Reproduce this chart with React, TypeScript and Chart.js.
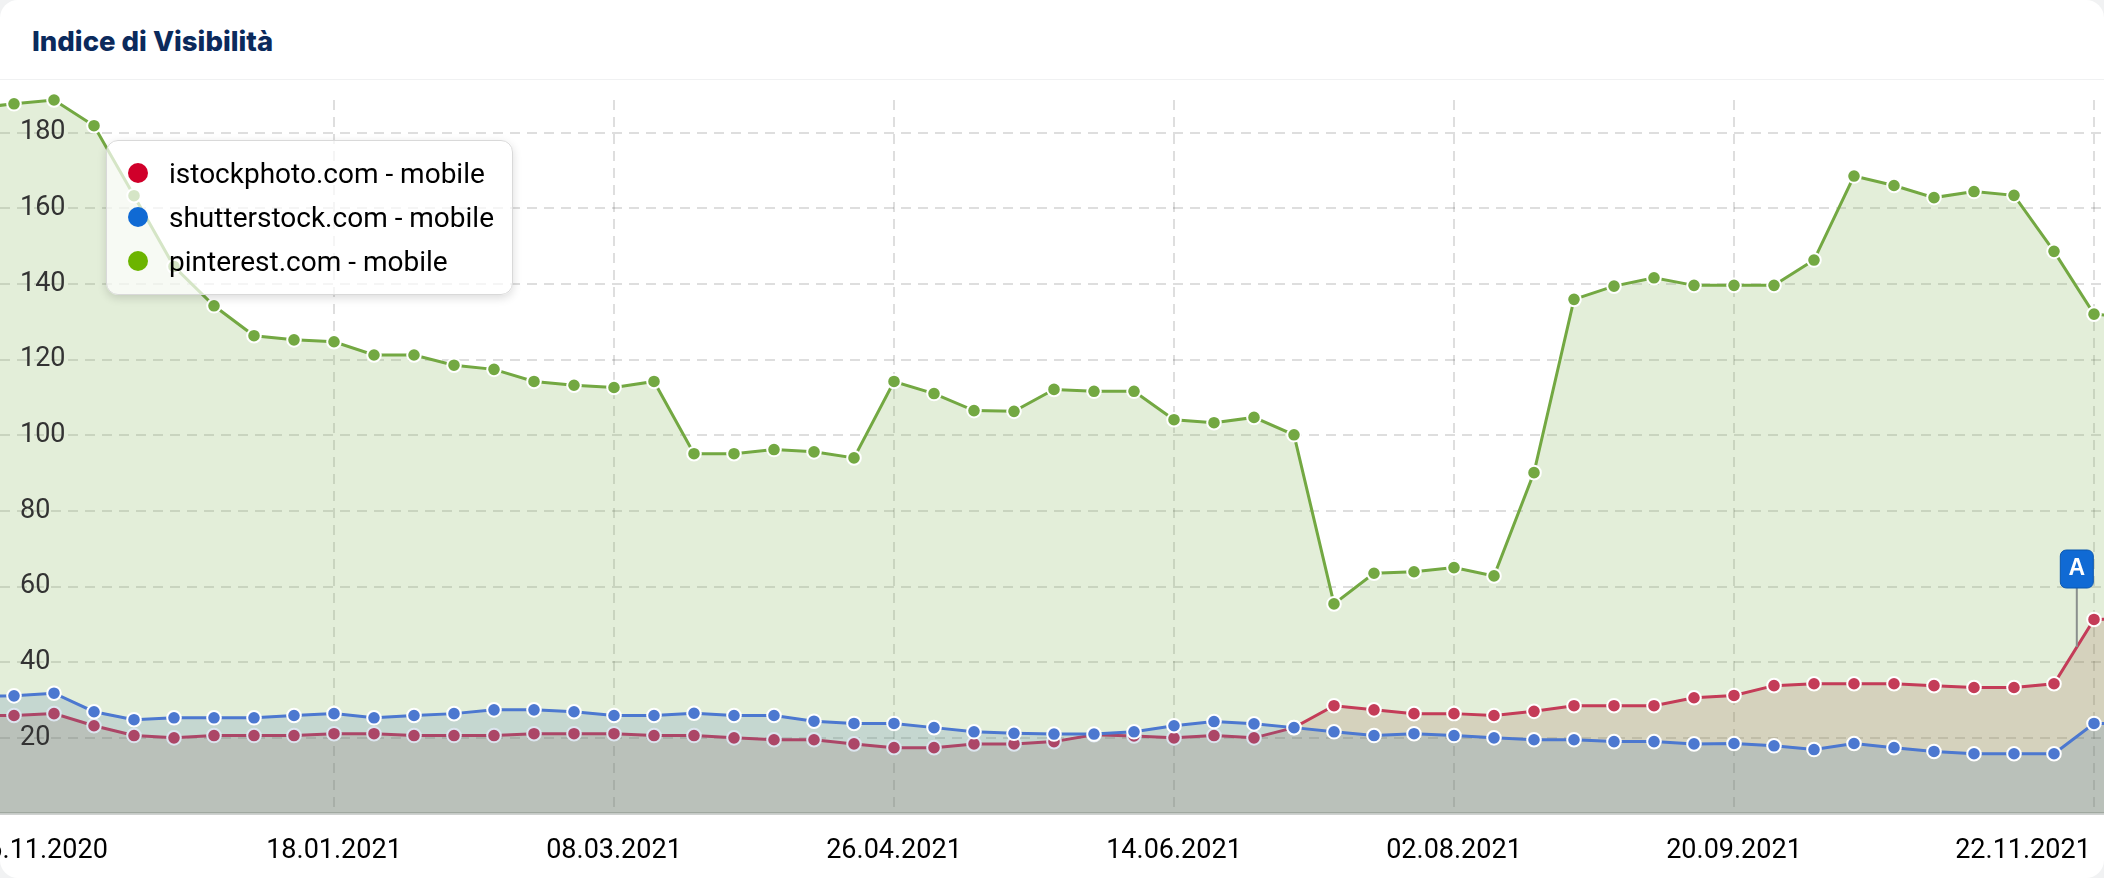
import React, { useEffect, useRef } from "react";
import { Chart, registerables } from "chart.js";

Chart.register(...registerables);

const TITLE = "Indice di Visibilità";
const weekIndex = [
  0, 1, 2, 3, 4, 5, 6, 7, 8, 9, 10, 11, 12, 13, 14, 15, 16, 17, 18, 19, 20, 21, 22, 23, 24, 25, 26,
  27, 28, 29, 30, 31, 32, 33, 34, 35, 36, 37, 38, 39, 40, 41, 42, 43, 44, 45, 46, 47, 48, 49, 50, 51, 52, 53, 54,
];
const istock = [
  25.9, 25.9, 26.4, 23.2, 20.6, 20, 20.6, 20.6, 20.6, 21.1, 21.1, 20.6, 20.6, 20.6, 21.1, 21.1, 21.1, 20.6,
  20.6, 20, 19.5, 19.5, 18.4, 17.4, 17.4, 18.4, 18.4, 19, 20.8, 20.5, 20, 20.6, 20, 22.7, 28.5, 27.4, 26.4,
  26.4, 25.9, 27, 28.5, 28.5, 28.5, 30.6, 31.2, 33.8, 34.3, 34.3, 34.3, 33.8, 33.3, 33.3, 34.3, 51.3, 51.5,
];
const shutter = [
  31, 31.1, 31.8, 26.9, 24.8, 25.3, 25.3, 25.3, 25.9, 26.4, 25.3, 25.9, 26.4, 27.4, 27.4, 26.9, 25.9, 25.9,
  26.5, 25.9, 25.9, 24.4, 23.8, 23.8, 22.7, 21.6, 21.2, 21, 21, 21.6, 23.2, 24.3, 23.7, 22.7, 21.6, 20.6, 21.1,
  20.6, 20, 19.5, 19.5, 19, 19, 18.4, 18.5, 17.9, 16.9, 18.5, 17.4, 16.4, 15.8, 15.8, 15.8, 23.8, 23.8,
];
const pinterest = [
  186.4, 187.6, 188.6, 181.8, 163.3, 144.6, 134.2, 126.3, 125.2, 124.7, 121.2, 121.2, 118.5, 117.4, 114.2, 113.2,
  112.6, 114.2, 95.1, 95.1, 96.2, 95.6, 94, 114.2, 111, 106.5, 106.3, 112.1, 111.6, 111.6, 104.1, 103.3, 104.7,
  100.1, 55.4, 63.5, 63.9, 65, 62.8, 90.1, 135.9, 139.4, 141.6, 139.6, 139.6, 139.6, 146.3, 168.5, 166, 162.8,
  164.4, 163.4, 148.6, 132, 131,
];
const xTickIndex = [0, 9, 16, 23, 30, 37, 44, 53];
const xTickLabels = ["16.11.2020", "18.01.2021", "08.03.2021", "26.04.2021", "14.06.2021", "02.08.2021", "20.09.2021", "22.11.2021"];
const yTicks = [20, 40, 60, 80, 100, 120, 140, 160, 180];
const legendItems = [
  { name: "istockphoto.com - mobile", color: "#d0002a" },
  { name: "shutterstock.com - mobile", color: "#106ad4" },
  { name: "pinterest.com - mobile", color: "#6cb400" },
];
const noteLabel = "A";
const noteX = 52.57;
const noteY = 44;

const toPoints = (ys: number[]) => ys.map((y, i) => ({ x: weekIndex[i], y }));

const line = (label: string, ys: number[], color: string, fill: string, order: number) => ({
  label,
  data: toPoints(ys),
  borderColor: color,
  backgroundColor: fill,
  fill: "origin",
  borderWidth: 3,
  tension: 0,
  pointRadius: 6.8,
  pointBackgroundColor: color,
  pointBorderColor: "#fff",
  pointBorderWidth: 2,
  order,
  clip: false,
});

const notePlugin = {
  id: "note",
  afterDatasetsDraw(chart: any) {
    const { ctx, scales } = chart;
    const x = scales.x.getPixelForValue(noteX);
    const y = scales.y.getPixelForValue(noteY);
    const top = 550;
    const h = 38;
    const w = 33;
    ctx.save();
    ctx.strokeStyle = "#8a8f8d";
    ctx.lineWidth = 2;
    ctx.beginPath();
    ctx.moveTo(x, top + h);
    ctx.lineTo(x, y);
    ctx.stroke();
    ctx.beginPath();
    ctx.roundRect(x - w / 2, top, w, h, 6);
    ctx.fillStyle = "#106ad4";
    ctx.fill();
    ctx.strokeStyle = "#0b56ad";
    ctx.lineWidth = 1;
    ctx.stroke();
    ctx.fillStyle = "#fff";
    ctx.font = "bold 23px 'Liberation Sans'";
    ctx.textAlign = "center";
    ctx.textBaseline = "middle";
    ctx.fillText(noteLabel, x, top + h / 2);
    ctx.restore();
  },
};

export default function App() {
  const ref = useRef<HTMLCanvasElement>(null);
  useEffect(() => {
    const chart = new Chart(ref.current!, {
      type: "line",
      data: {
        datasets: [
          line(legendItems[0].name, istock, "#c43c58", "rgba(157,93,73,0.2)", 2),
          line(legendItems[1].name, shutter, "#4c78d0", "rgba(70,118,172,0.19)", 1),
          line(legendItems[2].name, pinterest, "#73a842", "rgba(113,168,66,0.2)", 3),
        ] as any,
      },
      plugins: [notePlugin],
      options: {
        animation: false,
        responsive: false,
        layout: { autoPadding: false, padding: { top: 100, left: 0, right: 0, bottom: 0 } },
        plugins: { legend: { display: false }, tooltip: { enabled: false }, title: { display: false } },
        scales: {
          x: {
            type: "linear",
            min: 0.65,
            max: 53.25,
            grid: { color: "rgba(0,0,0,0.13)", lineWidth: 2, drawTicks: false },
            border: { display: true, color: "#cfd2d0", width: 3, dash: [10, 7] },
            ticks: {
              autoSkip: false,
              maxRotation: 0,
              padding: 22,
              color: "#000",
              font: { family: "Roboto", size: 27 },
              callback: (v: any) => xTickLabels[xTickIndex.indexOf(v)] ?? "",
            },
            afterBuildTicks: (s: any) => {
              s.ticks = xTickIndex.map((value) => ({ value }));
              const orig = s._computeLabelItems;
              s._computeLabelItems = function (area: any) {
                const items = orig.call(s, area);
                for (const it of items) {
                  const half = 68;
                  const t = it.options.translation;
                  t[0] = Math.min(2091 - half, Math.max(-28 + half, t[0]));
                }
                return items;
              };
            },
            afterFit: (s: any) => {
              s.height = 64.5;
              s.paddingLeft = 0;
              s.paddingRight = 0;
            },
          },
          y: {
            type: "linear",
            min: 0,
            max: 188.6,
            grid: { color: "rgba(0,0,0,0.13)", lineWidth: 2, drawTicks: false },
            border: { display: false, dash: [10, 7] },
            ticks: {
              mirror: true,
              padding: 20,
              z: 1,
              color: "#333",
              font: { family: "Roboto", size: 27 },
            },
            afterBuildTicks: (s: any) => {
              s.ticks = yTicks.map((value) => ({ value }));
            },
            afterFit: (s: any) => {
              s.width = 0;
              s.paddingTop = 0;
              s.paddingBottom = 0;
            },
          },
        },
      },
    } as any);
    return () => chart.destroy();
  }, []);

  return (
    <div style={{ position: "fixed", left: 0, top: 0, width: 2104, height: 878, background: "#f1f2f3", overflow: "hidden" }}>
      <div style={{ position: "absolute", inset: 0, background: "#fff", borderRadius: 18 }} />
      <div style={{ position: "absolute", left: 0, right: 0, top: 0, height: 79, borderBottom: "1px solid #f0f1f2" }} />
      <div
        style={{
          position: "absolute",
          left: 32,
          top: 21,
          fontFamily: "Inter",
          fontWeight: 800,
          fontSize: 27.5,
          lineHeight: "40px",
          color: "#0b2a5c",
        }}
      >
        {TITLE}
      </div>
      <canvas ref={ref} width={2104} height={878} style={{ position: "absolute", left: 0, top: 0, width: 2104, height: 878 }} />
      <div
        style={{
          position: "absolute",
          left: 106,
          top: 140,
          width: 407,
          height: 155,
          boxSizing: "border-box",
          background: "rgba(255,255,255,0.7)",
          border: "1px solid #d9d9d9",
          borderRadius: 12,
          boxShadow: "0 3px 10px rgba(0,0,0,0.14)",
        }}
      >
        {legendItems.map((it, k) => (
          <div
            key={it.name}
            style={{
              position: "absolute",
              left: 62,
              top: 11 + k * 44,
              height: 44,
              lineHeight: "44px",
              fontFamily: "Roboto",
              fontSize: 28,
              whiteSpace: "nowrap",
              color: "#000",
            }}
          >
            <span
              style={{
                position: "absolute",
                left: -41,
                top: 11,
                width: 20,
                height: 20,
                borderRadius: "50%",
                background: it.color,
              }}
            />
            {it.name}
          </div>
        ))}
      </div>
    </div>
  );
}
